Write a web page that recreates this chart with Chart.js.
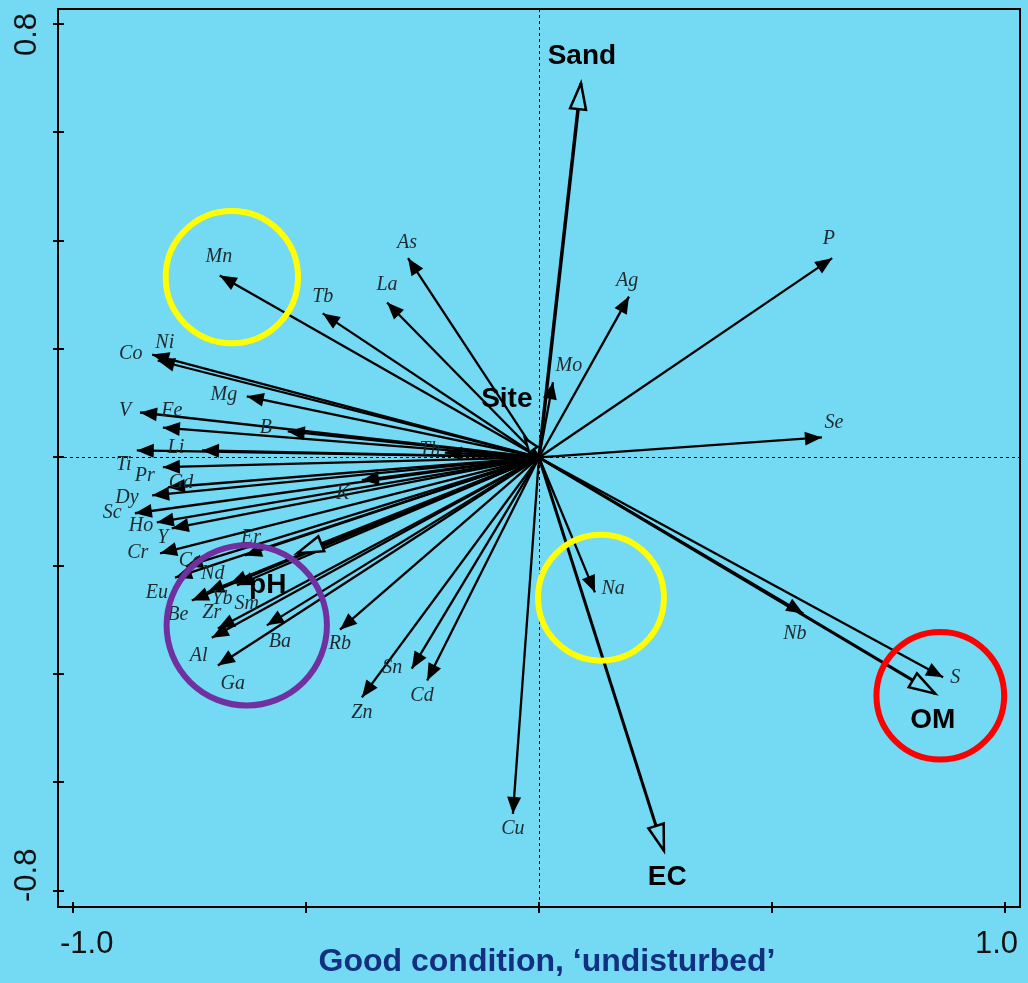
<!DOCTYPE html>
<html>
<head>
<meta charset="utf-8">
<script src="https://cdn.jsdelivr.net/npm/chart.js@4.4.1/dist/chart.umd.min.js"></script>
<style>
  html, body { margin: 0; padding: 0; background: #74d9f3; }
  canvas { display: block; }
</style>
</head>
<body>
<canvas id="c" width="1028" height="983"></canvas>
<script>
// element arrows (biplot scores)
const elements = ['Mn','Tb','As','La','Ag','Mo','P','Se','Nb','S','Na','Cu','Cd','Sn','Zn','Rb','Ba','Ga','Al','Zr','Sm','Be','Yb','Nd','Eu','Ce','Er','Cr','Y','Ho','Sc','Dy','Gd','Pr','Ti','Li','Fe','B','V','Mg','Co','Ni','K','Th'];
const elemX = [-0.685,-0.464,-0.281,-0.326,0.193,0.030,0.629,0.607,0.567,0.867,0.120,-0.056,-0.240,-0.273,-0.380,-0.427,-0.584,-0.689,-0.702,-0.689,-0.648,-0.745,-0.712,-0.663,-0.781,-0.758,-0.631,-0.813,-0.788,-0.820,-0.867,-0.830,-0.796,-0.807,-0.863,-0.723,-0.807,-0.539,-0.856,-0.627,-0.830,-0.818,-0.380,-0.202];
const elemY = [0.336,0.266,0.368,0.286,0.297,0.139,0.368,0.037,-0.288,-0.406,-0.249,-0.658,-0.412,-0.390,-0.443,-0.318,-0.310,-0.384,-0.333,-0.316,-0.236,-0.264,-0.249,-0.233,-0.222,-0.201,-0.181,-0.177,-0.131,-0.120,-0.103,-0.070,-0.055,-0.018,0.013,0.013,0.055,0.048,0.083,0.113,0.190,0.179,-0.042,0.009];
const elemLabelX = [-0.687,-0.464,-0.283,-0.326,0.189,0.064,0.622,0.633,0.549,0.893,0.159,-0.056,-0.251,-0.315,-0.380,-0.427,-0.556,-0.657,-0.730,-0.702,-0.627,-0.775,-0.680,-0.700,-0.820,-0.749,-0.618,-0.861,-0.807,-0.854,-0.916,-0.884,-0.768,-0.846,-0.891,-0.779,-0.788,-0.586,-0.888,-0.676,-0.876,-0.803,-0.421,-0.234];
const elemLabelY = [0.370,0.297,0.397,0.318,0.327,0.170,0.403,0.065,-0.325,-0.406,-0.242,-0.685,-0.440,-0.388,-0.471,-0.344,-0.340,-0.418,-0.366,-0.286,-0.270,-0.290,-0.260,-0.214,-0.249,-0.190,-0.148,-0.176,-0.148,-0.126,-0.102,-0.074,-0.046,-0.033,-0.013,0.018,0.087,0.054,0.087,0.116,0.192,0.212,-0.067,0.015];

// environmental variables
const envVars = ['Sand','EC','OM','pH','Site'];
const envX = [0.090,0.268,0.850,-0.519,-0.030];
const envY = [0.691,-0.726,-0.436,-0.177,0.035];
const envLabelX = [0.092,0.275,0.845,-0.582,-0.069];
const envLabelY = [0.741,-0.776,-0.486,-0.236,0.107];

// axes
const xTicks = [-1,-0.5,0,0.5,1];
const xTickLabels = ['-1.0','','','','1.0'];
const yTicks = [-0.8,-0.6,-0.4,-0.2,0,0.2,0.4,0.6,0.8];
const yTickLabels = ['-0.8','','','','','','','','0.8'];
const xTitle = 'Good condition, \u2018undisturbed\u2019';

// highlight rings
const ringX = [-0.659,0.133,-0.627,0.861];
const ringY = [0.333,-0.259,-0.310,-0.440];
const ringR = [0.142,0.135,0.172,0.137];
const ringColors = ['#ffff00','#ffff00','#7030a0','#ff0000'];

const BG = '#74d9f3';

const datasets = [];
elements.forEach((name, i) => {
  datasets.push({
    label: name,
    data: [{x: 0, y: 0}, {x: elemX[i], y: elemY[i]}],
    borderColor: '#000',
    borderWidth: 2.3,
    head: 'filled', headLen: 17, headW: 7
  });
});
envVars.forEach((name, i) => {
  const small = name === 'Site';
  datasets.push({
    label: name,
    data: [{x: 0, y: 0}, {x: envX[i], y: envY[i]}],
    borderColor: '#000',
    borderWidth: name === 'Sand' ? 3.5 : 3,
    head: 'open', headLen: small ? 14 : 26, headW: small ? 5 : 8
  });
});

const biplotDecor = {
  id: 'biplotDecor',
  beforeDraw(chart) {
    const {ctx, chartArea: a, scales: {x, y}} = chart;
    ctx.save();
    ctx.fillStyle = BG;
    ctx.fillRect(0, 0, chart.width, chart.height);
    const x0 = Math.round(x.getPixelForValue(0)) + 0.5;
    const y0 = Math.round(y.getPixelForValue(0)) + 0.5;
    ctx.strokeStyle = '#000';
    ctx.lineWidth = 1;
    ctx.setLineDash([3, 3]);
    ctx.beginPath();
    ctx.moveTo(x0, a.top); ctx.lineTo(x0, a.bottom);
    ctx.moveTo(a.left, y0); ctx.lineTo(a.right, y0);
    ctx.stroke();
    ctx.setLineDash([]);
    ctx.lineWidth = 2;
    ctx.strokeRect(a.left, a.top, a.right - a.left, a.bottom - a.top);
    ctx.beginPath();
    xTicks.forEach(v => {
      const px = Math.round(x.getPixelForValue(v));
      ctx.moveTo(px, a.bottom - 5); ctx.lineTo(px, a.bottom + 6);
    });
    yTicks.forEach(v => {
      const py = Math.round(y.getPixelForValue(v));
      ctx.moveTo(a.left - 5, py); ctx.lineTo(a.left + 6, py);
    });
    ctx.stroke();
    ctx.restore();
  },
  afterDatasetsDraw(chart) {
    const {ctx, chartArea: a, scales: {x, y}} = chart;
    ctx.save();
    // arrow heads
    chart.data.datasets.forEach((ds, i) => {
      const pts = chart.getDatasetMeta(i).data;
      const p0 = pts[0], p1 = pts[1];
      const ang = Math.atan2(p1.y - p0.y, p1.x - p0.x);
      ctx.save();
      ctx.translate(p1.x, p1.y);
      ctx.rotate(ang);
      ctx.beginPath();
      ctx.moveTo(0, 0);
      ctx.lineTo(-ds.headLen, -ds.headW);
      ctx.lineTo(-ds.headLen, ds.headW);
      ctx.closePath();
      if (ds.head === 'open') {
        ctx.fillStyle = BG;
        ctx.fill();
        ctx.lineWidth = 2.5;
        ctx.strokeStyle = '#000';
        ctx.stroke();
      } else {
        ctx.fillStyle = '#000';
        ctx.fill();
      }
      ctx.restore();
    });
    // labels
    ctx.textAlign = 'center';
    ctx.textBaseline = 'middle';
    ctx.fillStyle = '#1e2a2e';
    ctx.font = 'italic 20px "Liberation Serif", "DejaVu Serif", serif';
    elements.forEach((name, i) => {
      ctx.fillText(name, x.getPixelForValue(elemLabelX[i]), y.getPixelForValue(elemLabelY[i]));
    });
    ctx.fillStyle = '#000';
    ctx.font = 'bold 28px "Liberation Sans", Arial, sans-serif';
    envVars.forEach((name, i) => {
      ctx.fillText(name, x.getPixelForValue(envLabelX[i]), y.getPixelForValue(envLabelY[i]));
    });
    // rings
    ctx.lineWidth = 6;
    ringX.forEach((v, i) => {
      const r = x.getPixelForValue(ringR[i]) - x.getPixelForValue(0);
      ctx.strokeStyle = ringColors[i];
      ctx.beginPath();
      ctx.arc(x.getPixelForValue(v), y.getPixelForValue(ringY[i]), r, 0, Math.PI * 2);
      ctx.stroke();
    });
    // tick labels (kept inside the axis extent like the original)
    ctx.fillStyle = '#111';
    ctx.font = '31px "Liberation Sans", Arial, sans-serif';
    xTicks.forEach((v, i) => {
      const t = xTickLabels[i];
      if (!t) return;
      const w = ctx.measureText(t).width;
      let cx = x.getPixelForValue(v);
      cx = Math.max(a.left + 2 + w / 2, Math.min(a.right - 2 - w / 2, cx));
      ctx.fillText(t, cx, a.bottom + 37);
    });
    yTicks.forEach((v, i) => {
      const t = yTickLabels[i];
      if (!t) return;
      const w = ctx.measureText(t).width;
      let cy = y.getPixelForValue(v);
      cy = Math.max(a.top + 4 + w / 2, Math.min(a.bottom - 5 - w / 2, cy));
      ctx.save();
      ctx.translate(27, cy);
      ctx.rotate(-Math.PI / 2);
      ctx.fillText(t, 0, 0);
      ctx.restore();
    });
    // axis title
    ctx.fillStyle = '#12307f';
    ctx.font = 'bold 32px "Liberation Sans", Arial, sans-serif';
    ctx.fillText(xTitle, (a.left + a.right) / 2 + 8, 962);
    ctx.restore();
  }
};

new Chart(document.getElementById('c'), {
  type: 'scatter',
  data: {datasets: datasets},
  options: {
    responsive: false,
    devicePixelRatio: 1,
    animation: false,
    events: [],
    layout: {padding: {left: 58, top: 9, right: 8, bottom: 76}},
    datasets: {
      scatter: {showLine: true, pointRadius: 0, fill: false}
    },
    scales: {
      x: {type: 'linear', min: -1.032, max: 1.032, display: false},
      y: {type: 'linear', min: -0.83, max: 0.828, display: false}
    },
    plugins: {legend: {display: false}, tooltip: {enabled: false}}
  },
  plugins: [biplotDecor]
});
</script>
</body>
</html>
